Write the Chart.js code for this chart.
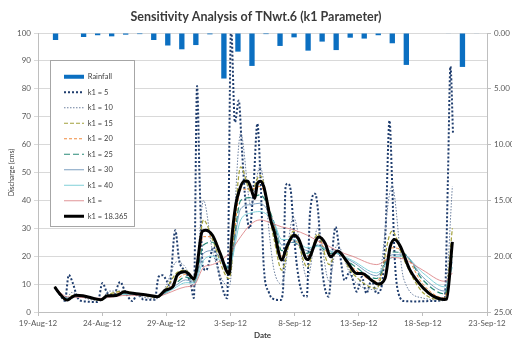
<!DOCTYPE html>
<html>
<head>
<meta charset="utf-8">
<script src="https://cdn.jsdelivr.net/npm/chart.js@4.4.1/dist/chart.umd.min.js"></script>
<style>
  html, body { margin: 0; padding: 0; background: #fff; }
</style>
</head>
<body>
<canvas id="tnwt" width="512" height="343"></canvas>
<script>
// daily rainfall (mm), drawn hanging from the top on the reversed right axis
const rainDays = ['19-Aug', '20-Aug', '21-Aug', '22-Aug', '23-Aug', '24-Aug', '25-Aug', '26-Aug',
  '27-Aug', '28-Aug', '29-Aug', '30-Aug', '31-Aug', '1-Sep', '2-Sep', '3-Sep', '4-Sep', '5-Sep',
  '6-Sep', '7-Sep', '8-Sep', '9-Sep', '10-Sep', '11-Sep', '12-Sep', '13-Sep', '14-Sep', '15-Sep',
  '16-Sep', '17-Sep', '18-Sep', '19-Sep'];
const rainfall = [0, 0.63, 0, 0.36, 0.2, 0.3, 0.15, 0.1, 0.63, 1.12, 1.46, 1.08, 0.12, 4.08, 1.67, 2.95,
  0.1, 1.16, 0.39, 1.58, 0.77, 1.53, 0.42, 0.5, 0.2, 0.92, 2.86, 0, 0, 0.05, 3.04, 0.05];

// date axis labels, one every 5 days starting 19-Aug-12
const dateTicks = ['19-Aug-12', '24-Aug-12', '29-Aug-12', '3-Sep-12', '8-Sep-12', '13-Sep-12', '18-Sep-12', '23-Sep-12'];

// discharge (cms) as [days after 19-Aug-12, Q]
const qCal = [[1.3, 9.0], [1.7, 6.5], [2.1, 4.6], [2.3, 4.3], [2.6, 5.2], [2.95, 6.0], [3.5, 5.8], [4.2, 5.0],
  [4.9, 4.4], [5.4, 5.8], [5.9, 5.8], [6.4, 6.5], [6.7, 7.3], [7.2, 6.8], [8.0, 6.4], [8.6, 6.0], [9.3, 5.5],
  [9.95, 7.9], [10.5, 9.0], [10.85, 13.2], [11.4, 14.4], [11.7, 13.9], [12.15, 11.8], [12.35, 15], [12.8, 28.9],
  [13.05, 29.3], [13.6, 27.5], [14.2, 21], [14.9, 13.6], [15.1, 26], [15.4, 38], [15.65, 43], [16.05, 46.9],
  [16.35, 46.9], [16.55, 45], [16.9, 40.7], [17.1, 46], [17.35, 46.9], [17.6, 44.9], [17.85, 39.6], [18.1, 33.6],
  [18.4, 29], [19.0, 18.6], [19.4, 23.5], [19.95, 27.5], [20.3, 26.3], [21.0, 18.8], [21.9, 26.9], [22.4, 24.5],
  [22.8, 19.8], [23.35, 21.9], [24.1, 18], [24.85, 13.8], [25.25, 13.8], [26.0, 11.4], [26.5, 10.0], [27.05, 12],
  [27.45, 23.3], [27.8, 26], [28.2, 23.9], [29.0, 15], [30.05, 8.5], [30.8, 5.7], [31.7, 4.5], [31.85, 4.6], [32.3, 25.1]];

const qK5 = [[1.3, 9.0], [1.8, 5.5], [2.1, 4.0], [2.4, 13.3], [2.7, 10.5], [3.1, 5.0], [3.6, 3.8], [4.65, 3.6],
  [5.03, 10.4], [5.4, 6.8], [5.9, 6.2], [6.4, 10.8], [6.8, 7.3], [7.35, 3.9], [7.75, 6.3], [8.25, 4.4], [9.1, 4.4],
  [9.4, 12.6], [9.7, 13.2], [10.0, 11.5], [10.25, 9.5], [10.7, 29.3], [11.0, 18.6], [11.5, 14.5], [11.9, 10.2],
  [12.15, 5.0], [12.4, 81], [12.6, 47], [12.85, 16.2], [13.1, 15], [13.7, 23.3], [14.0, 16.2], [14.35, 9.0],
  [14.75, 4.9], [15.05, 102], [15.35, 68], [15.65, 75.8], [15.9, 58], [16.2, 38], [16.5, 30], [16.8, 45],
  [17.1, 67.5], [17.35, 47], [17.6, 16.2], [18.0, 7], [18.25, 4.9], [18.9, 4.3], [19.1, 8], [19.3, 44.8],
  [19.45, 46], [19.7, 43.6], [19.85, 35.2], [20.1, 20], [20.6, 6.7], [20.95, 5.5], [21.2, 35.3], [21.6, 42.4],
  [21.85, 35.2], [22.1, 17.4], [22.65, 5.5], [23.05, 26.9], [23.2, 30.5], [23.5, 22], [23.9, 11.4], [24.3, 14.4],
  [24.85, 7.3], [25.25, 12.6], [25.6, 6.7], [26.0, 11.4], [26.4, 6.7], [26.8, 9.5], [27.1, 30], [27.4, 68.6],
  [27.6, 47], [27.8, 19.8], [28.1, 6.7], [28.6, 3.9], [29.5, 3.8], [30.5, 3.9], [31.7, 4.4], [31.95, 47],
  [32.15, 88], [32.35, 64]];

// the smoother runs are read at the same times
const midDays = [1.3, 2.2, 2.6, 3.5, 4.9, 5.5, 6.6, 8.0, 9.3, 10.0, 10.8, 11.5, 12.2, 12.9, 13.6, 14.9, 15.8,
  16.6, 17.3, 18.4, 19.0, 19.9, 21.0, 21.8, 22.7, 23.3, 24.5, 26.4, 27.6, 28.5, 30.0, 31.7, 32.3];
const qK10 = [9, 4.2, 7, 5.2, 4.0, 7.5, 7.5, 5.5, 4.8, 9.5, 18, 16, 9, 40, 22, 9, 64, 38, 52, 15, 10, 34, 12, 30, 11, 24, 12, 8, 45, 12, 5, 4.3, 45];
const qK15 = [9, 4.3, 5.8, 5.6, 4.2, 6.2, 7.4, 6.2, 5.2, 8.5, 14, 15, 11, 33, 26, 12, 52, 43, 49, 26, 15, 29, 16, 28, 17, 22, 14, 8.5, 29, 19, 7, 4.4, 30];
const qK20 = [9, 4.5, 5.2, 5.8, 4.5, 5.7, 7.0, 6.4, 5.6, 7.6, 11.5, 13.5, 12, 27, 27, 14.5, 44, 44, 45, 31, 20, 26, 20, 25.5, 21, 21, 16, 11, 23, 21.5, 10, 5, 23];
const qK25 = [9, 4.7, 5.1, 5.7, 4.6, 5.5, 6.7, 6.3, 5.6, 7.2, 10.5, 12.5, 11.5, 24, 25, 15.5, 40, 41, 42, 32, 22, 25, 21, 24, 21, 21, 17, 12, 21.5, 21, 11.5, 6.5, 20];
const qK30 = [9, 4.9, 5.1, 5.6, 4.7, 5.4, 6.5, 6.3, 5.6, 7, 9.7, 11.5, 11, 21, 22, 16, 37, 38.5, 39, 32, 24, 25, 22, 24, 22, 21, 18, 13, 20.5, 20.5, 12.5, 7.5, 18];
const qK40 = [9, 5.1, 5.1, 5.5, 4.8, 5.3, 6.2, 6.2, 5.6, 6.8, 9, 10.5, 10.5, 18.5, 20, 16.5, 33, 35.5, 36, 32, 26, 26, 23, 23.5, 22, 21, 18.5, 14, 19.5, 20, 14, 9, 16];
const qKx = [9, 5.5, 5.3, 5.2, 4.9, 5.2, 5.9, 6.0, 5.6, 6.5, 8, 9, 9.8, 16, 17, 21, 27, 31.5, 33, 31.5, 30.5, 29.5, 27.5, 25.5, 23.5, 22, 20, 17, 19.5, 19, 15, 11, 14];

const onMid = vals => midDays.map((d, i) => [d, vals[i]]);

function lineSet(label, data, color, width, dash, order) {
  return {
    type: 'line', label: label, data: data,
    borderColor: color, backgroundColor: color,
    borderWidth: width, borderDash: dash,
    pointRadius: 0, pointStyle: 'line',
    cubicInterpolationMode: 'monotone',
    xAxisID: 'x', yAxisID: 'y', order: order
  };
}

// put the legend inside the plot and give it a white framed box over the grid
const legendFrame = {
  id: 'legendFrame',
  afterLayout(chart) {
    chart.legend.left = 56;
    chart.legend.top = 65;
  },
  afterDatasetsDraw(chart) {
    const lg = chart.legend;
    const hb = lg.legendHitBoxes;
    if (!hb || !hb.length) return;
    let t = Infinity, b = -Infinity;
    hb.forEach(h => {
      t = Math.min(t, h.top);
      b = Math.max(b, h.top + h.height);
    });
    const ctx = chart.ctx;
    ctx.save();
    ctx.fillStyle = '#ffffff';
    ctx.strokeStyle = '#a6a6a6';
    ctx.lineWidth = 1;
    ctx.fillRect(50, t - 13, 84, b - t + 19);
    ctx.strokeRect(50.5, t - 12.5, 84, b - t + 19);
    ctx.restore();
    lg.draw();
  }
};

Chart.defaults.font.family = 'Lato, "Open Sans", sans-serif';
Chart.defaults.color = '#595959';

new Chart(document.getElementById('tnwt'), {
  type: 'line',
  data: {
    datasets: [
      { type: 'bar', label: 'Rainfall', data: rainfall, backgroundColor: '#0b6fc1', borderWidth: 0,
        pointStyle: 'rect', xAxisID: 'x2', yAxisID: 'y2', barPercentage: 0.76, categoryPercentage: 1, order: 9 },
      lineSet('k1 = 5', qK5, '#1f3d6e', 2, [2, 2], 8),
      lineSet('k1 = 10', onMid(qK10), '#6b7f9e', 1, [1.5, 1.5], 7),
      lineSet('k1 = 15', onMid(qK15), '#a3a13c', 1.2, [4, 2], 6),
      lineSet('k1 = 20', onMid(qK20), '#ef8a3c', 1, [3, 2], 5),
      lineSet('k1 = 25', onMid(qK25), '#2a8a78', 1.2, [6, 3], 4),
      lineSet('k1 = 30', onMid(qK30), '#5b87b0', 0.8, [], 3),
      lineSet('k1 = 40', onMid(qK40), '#80d0d8', 1, [], 2),
      lineSet('k1 = ', onMid(qKx), '#d9787c', 0.8, [], 1),
      lineSet('k1 = 18.365', qCal, '#000000', 3, [], 0)
    ]
  },
  options: {
    responsive: false,
    animation: false,
    devicePixelRatio: 1,
    layout: { padding: { top: 0, left: 0, right: 0, bottom: 0 } },
    plugins: {
      title: {
        display: true, text: 'Sensitivity Analysis of TNwt.6 (k1 Parameter)',
        font: { size: 12.5, weight: 'bold' }, color: '#3a3a3a', padding: { top: 9, bottom: 9 }
      },
      legend: {
        position: 'chartArea', align: 'start',
        labels: {
          usePointStyle: true, pointStyleWidth: 20, boxHeight: 4, padding: 8,
          font: { size: 7.5 }, color: '#404040',
          sort: (a, b) => a.datasetIndex - b.datasetIndex,
          generateLabels: chart => {
            const items = Chart.defaults.plugins.legend.labels.generateLabels(chart);
            items.forEach(it => {
              const ds = chart.data.datasets[it.datasetIndex];
              it.lineDash = ds.borderDash || [];
              it.lineWidth = ds.borderWidth;
            });
            return items;
          }
        }
      },
      tooltip: { enabled: false }
    },
    scales: {
      x: {
        type: 'linear', position: 'bottom', min: 0, max: 35,
        ticks: { stepSize: 5, autoSkip: false, maxRotation: 0, padding: 3, font: { size: 8 },
          callback: v => dateTicks[v / 5] },
        grid: { drawOnChartArea: false, tickLength: 4, color: '#bfbfbf' },
        border: { color: '#bfbfbf' },
        title: { display: true, text: 'Date', color: '#404040', font: { size: 8, weight: 'bold' }, padding: { top: 0, bottom: 3 } },
        afterFit: s => { s.height = 31; }
      },
      x2: { type: 'category', labels: rainDays, display: false, offset: true },
      y: {
        position: 'left', min: 0, max: 100,
        ticks: { stepSize: 10, padding: 3, font: { size: 8 } },
        grid: { color: '#d9d9d9', tickLength: 4 },
        border: { color: '#bfbfbf' },
        title: { display: true, text: 'Discharge (cms)', color: '#404040', font: { size: 7 }, padding: { top: 8, bottom: 0 } },
        afterFit: s => { s.width = 38; }
      },
      y2: {
        position: 'right', reverse: true, min: 0, max: 25,
        ticks: { stepSize: 5, padding: 3, font: { size: 8 }, callback: v => v.toFixed(2) },
        grid: { drawOnChartArea: false, tickLength: 4, color: '#bfbfbf' },
        border: { color: '#bfbfbf' },
        afterFit: s => { s.width = 25; }
      }
    }
  },
  plugins: [legendFrame]
});
</script>
</body>
</html>
